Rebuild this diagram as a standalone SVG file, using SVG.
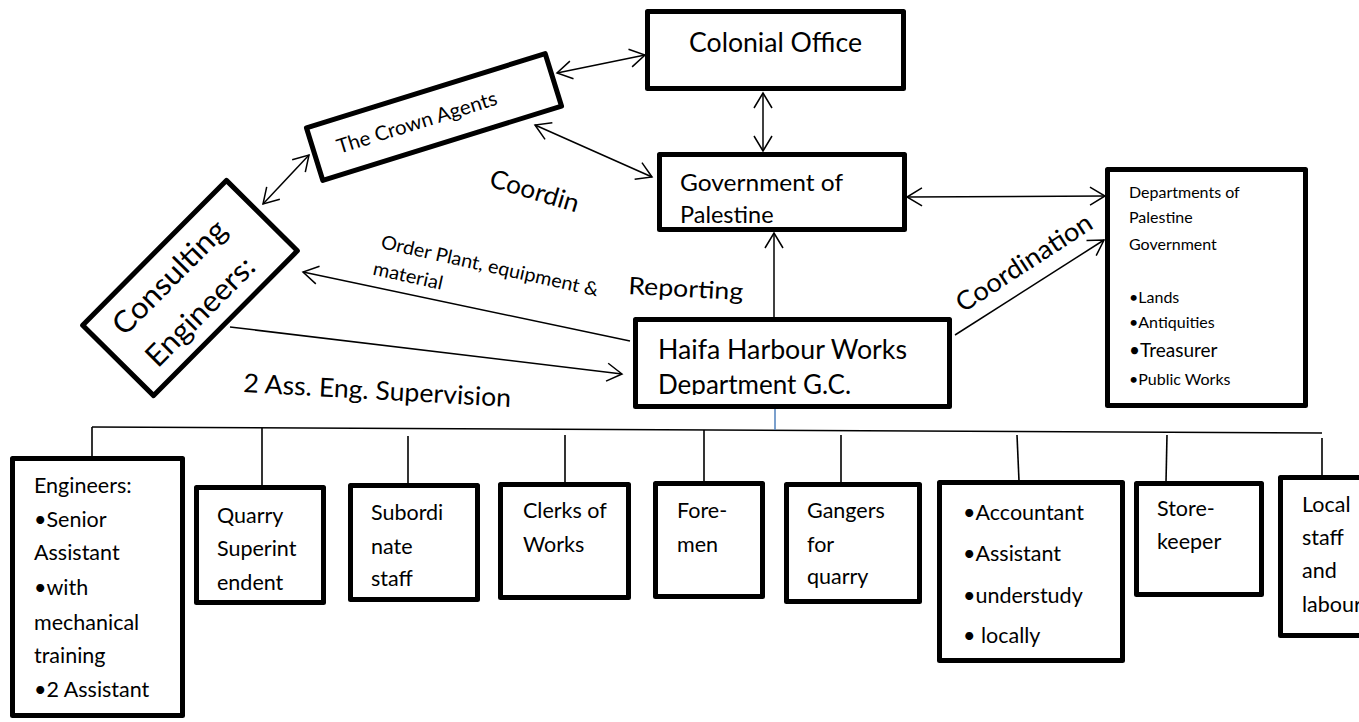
<svg xmlns="http://www.w3.org/2000/svg" width="1359" height="722" viewBox="0 0 1359 722">
<style>
.box{fill:#fff;stroke:#000;stroke-width:5;stroke-linejoin:round}
.t{font-family:Lato,"Liberation Sans",sans-serif;fill:#000}
.ln{fill:none;stroke:#000;stroke-width:1.5}
.tr{fill:none;stroke:#000;stroke-width:1.6}
</style>
<defs>
<marker id="ah" viewBox="-18 -11 20 22" refX="0" refY="0" markerWidth="20" markerHeight="22" orient="auto-start-reverse" markerUnits="userSpaceOnUse">
<path d="M-15,-9 L0,0 L-15,9" fill="none" stroke="#000" stroke-width="1.5"/>
</marker>
<clipPath id="hclip"><rect x="636" y="320" width="312" height="75"/></clipPath>
</defs>
<rect width="1359" height="722" fill="#fff"/>

<g id="connectors">
<line class="ln" x1="557" y1="73" x2="645" y2="55" marker-start="url(#ah)" marker-end="url(#ah)"/>
<line class="ln" x1="535" y1="125" x2="652" y2="177" marker-start="url(#ah)" marker-end="url(#ah)"/>
<line class="ln" x1="309" y1="155" x2="263" y2="204" marker-start="url(#ah)" marker-end="url(#ah)"/>
<line class="ln" x1="630" y1="341" x2="303" y2="272" marker-end="url(#ah)"/>
<line class="ln" x1="230" y1="327" x2="622" y2="374" marker-end="url(#ah)"/>
<line class="ln" x1="763" y1="93" x2="763" y2="151" marker-start="url(#ah)" marker-end="url(#ah)"/>
<line class="ln" x1="907" y1="197" x2="1105" y2="196" marker-start="url(#ah)" marker-end="url(#ah)"/>
<line class="ln" x1="955" y1="335" x2="1104" y2="240" marker-end="url(#ah)"/>
<line class="ln" x1="774" y1="319" x2="774" y2="233" marker-end="url(#ah)"/>
<line class="tr" x1="92" y1="427" x2="1322" y2="433" stroke-width="2.2"/>
<line class="tr" x1="92" y1="427" x2="92" y2="457"/>
<line class="tr" x1="262" y1="428" x2="262" y2="486"/>
<line class="tr" x1="408" y1="436" x2="408" y2="484"/>
<line class="tr" x1="565" y1="435" x2="565" y2="483"/>
<line class="tr" x1="704" y1="430" x2="704" y2="482"/>
<line class="tr" x1="841" y1="435" x2="841" y2="483"/>
<line class="tr" x1="1017" y1="435" x2="1019" y2="481"/>
<line class="tr" x1="1167" y1="435" x2="1166" y2="482"/>
<line class="tr" x1="1322" y1="438" x2="1322" y2="476"/>
<line x1="775" y1="409" x2="775" y2="430" stroke="#4f81bd" stroke-width="1.5"/>
</g>

<g id="labels">
<text class="t" font-size="25.5" textLength="92" lengthAdjust="spacingAndGlyphs" transform="translate(488,186) rotate(16.8)">Coordin</text>
<g transform="translate(380,248) rotate(12.6)">
<text class="t" font-size="19" textLength="222" lengthAdjust="spacingAndGlyphs" x="0" y="0">Order Plant, equipment &amp;</text>
<text class="t" font-size="19" textLength="71" lengthAdjust="spacingAndGlyphs" x="-2" y="27.5">material</text>
</g>
<text class="t" font-size="24" textLength="115" lengthAdjust="spacingAndGlyphs" transform="translate(628,294) rotate(3)">Reporting</text>
<text class="t" font-size="26" textLength="268" lengthAdjust="spacingAndGlyphs" transform="translate(243,392) rotate(3.2)">2 Ass. Eng. Supervision</text>
<text class="t" font-size="26" textLength="157" lengthAdjust="spacingAndGlyphs" transform="translate(963,313) rotate(-33)">Coordination</text>
</g>

<g id="colonial-office">
<rect class="box" x="647.5" y="11.5" width="256" height="77"/>
<text class="t" font-size="26" x="689" y="52" textLength="173" lengthAdjust="spacingAndGlyphs">Colonial Office</text>
</g>

<g id="government">
<rect class="box" x="659.5" y="154.5" width="245" height="75"/>
<text class="t" font-size="23.5" x="680" y="191" textLength="163" lengthAdjust="spacingAndGlyphs">Government of</text>
<text class="t" font-size="23.5" x="680" y="223">Palestine</text>
</g>

<g id="crown-agents" transform="translate(434,117) rotate(-17.3)">
<rect class="box" x="-125" y="-27.5" width="250" height="55"/>
<text class="t" font-size="20" x="-18" y="7" text-anchor="middle" textLength="167" lengthAdjust="spacingAndGlyphs">The Crown Agents</text>
</g>

<g id="consulting-engineers" transform="translate(190,288) rotate(-45.2)">
<rect class="box" x="-102" y="-50" width="204" height="100"/>
<text class="t" font-size="30" x="-81" y="-12" textLength="148" lengthAdjust="spacingAndGlyphs">Consulting</text>
<text class="t" font-size="30" x="-80" y="34" textLength="141" lengthAdjust="spacingAndGlyphs">Engineers:</text>
</g>

<g id="departments">
<rect class="box" x="1107.5" y="169.5" width="198" height="236"/>
<g class="t" font-size="16">
<text x="1129" y="198">Departments of</text>
<text x="1129" y="223">Palestine</text>
<text x="1129" y="250">Government</text>
<text x="1129" y="303">•Lands</text>
<text x="1129" y="328">•Antiquities</text>
<text x="1129" y="357" font-size="19">•Treasurer</text>
<text x="1129" y="385">•Public Works</text>
</g>
</g>

<g id="haifa">
<rect class="box" x="635.5" y="319.5" width="314" height="87"/>
<g clip-path="url(#hclip)">
<text class="t" font-size="26" x="658" y="359" textLength="249" lengthAdjust="spacingAndGlyphs">Haifa Harbour Works</text>
<text class="t" font-size="26" x="658" y="394">Department G.C.</text>
</g>
</g>

<g id="engineers">
<rect class="box" x="12.5" y="458.5" width="170" height="257"/>
<g class="t" font-size="21.5">
<text x="34" y="493">Engineers:</text>
<text x="34" y="527">•Senior</text>
<text x="34" y="560">Assistant</text>
<text x="34" y="595">•with</text>
<text x="34" y="630">mechanical</text>
<text x="34" y="663">training</text>
<text x="34" y="697">•2 Assistant</text>
</g>
</g>

<g id="quarry">
<rect class="box" x="196.5" y="487.5" width="127" height="115"/>
<g class="t" font-size="21.5">
<text x="217" y="523">Quarry</text>
<text x="217" y="556">Superint</text>
<text x="217" y="590">endent</text>
</g>
</g>

<g id="subordinate">
<rect class="box" x="350.5" y="485.5" width="127" height="114"/>
<g class="t" font-size="21.5">
<text x="371" y="520">Subordi</text>
<text x="371" y="554">nate</text>
<text x="371" y="586">staff</text>
</g>
</g>

<g id="clerks">
<rect class="box" x="500.5" y="484.5" width="128" height="113"/>
<g class="t" font-size="21.5">
<text x="523" y="518">Clerks of</text>
<text x="523" y="552">Works</text>
</g>
</g>

<g id="foremen">
<rect class="box" x="655.5" y="483.5" width="107" height="113"/>
<g class="t" font-size="21.5">
<text x="677" y="518">Fore-</text>
<text x="677" y="552">men</text>
</g>
</g>

<g id="gangers">
<rect class="box" x="786.5" y="484.5" width="133" height="117"/>
<g class="t" font-size="21.5">
<text x="807" y="518">Gangers</text>
<text x="807" y="552">for</text>
<text x="807" y="584">quarry</text>
</g>
</g>

<g id="accountant">
<rect class="box" x="939.5" y="482.5" width="183" height="178"/>
<g class="t" font-size="21.5">
<text x="963" y="520">•Accountant</text>
<text x="963" y="561">•Assistant</text>
<text x="963" y="603">•understudy</text>
<text x="963" y="643">• locally</text>
</g>
</g>

<g id="storekeeper">
<rect class="box" x="1136.5" y="483.5" width="125" height="111"/>
<g class="t" font-size="21.5">
<text x="1157" y="516">Store-</text>
<text x="1157" y="549">keeper</text>
</g>
</g>

<g id="local-staff">
<rect class="box" x="1280.5" y="477.5" width="100" height="158"/>
<g class="t" font-size="21.5">
<text x="1302" y="512">Local</text>
<text x="1302" y="545">staff</text>
<text x="1302" y="578">and</text>
<text x="1302" y="612">labour</text>
</g>
</g>
</svg>
